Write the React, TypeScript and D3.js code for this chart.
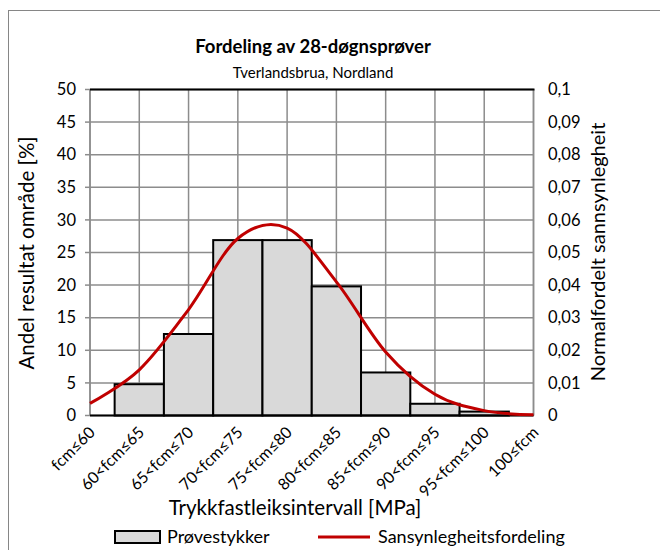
import React from "react";
import * as d3 from "d3";

const categories = [
  "fcm≤60", "60<fcm≤65", "65<fcm≤70", "70<fcm≤75", "75<fcm≤80",
  "80<fcm≤85", "85<fcm≤90", "90<fcm≤95", "95<fcm≤100", "100≤fcm",
];
const barValues = [0, 4.8, 12.5, 26.9, 26.9, 19.8, 6.6, 1.8, 0.6, 0];
const curveValues = [0.0037, 0.014, 0.0325, 0.0543, 0.0575, 0.041, 0.0195, 0.0065, 0.0015, 0.0002];
const leftTicks = [0, 5, 10, 15, 20, 25, 30, 35, 40, 45, 50];
const rightTicks = [0, 0.01, 0.02, 0.03, 0.04, 0.05, 0.06, 0.07, 0.08, 0.09, 0.1];

const FONT = "Lato, 'Open Sans', sans-serif";

export default function App() {
  const W = 660, H = 550;
  const left = 90, right = 533.5, top = 89.5, bottom = 415.5;
  const x = d3.scalePoint<string>().domain(categories).range([left, right]);
  const step = x.step();
  const yL = d3.scaleLinear().domain([0, 50]).range([bottom, top]);
  const yR = d3.scaleLinear().domain([0, 0.1]).range([bottom, top]);
  const fmtR = (v: number) => (v === 0 ? "0" : d3.format(".2~f")(v).replace(".", ","));
  const line = d3
    .line<number>()
    .x((_, i) => x(categories[i]) as number)
    .y((d) => yR(d))
    .curve(d3.curveCardinal.tension(0));
  const grid = "#8c8c8c";

  return (
    <svg width={W} height={H} style={{ position: "absolute", left: 0, top: 0, background: "#fff" }} fontFamily={FONT}>
      <defs>
        <clipPath id="plotclip">
          <rect x={left} y={top - 2} width={right - left} height={bottom - top + 4} />
        </clipPath>
      </defs>
      <line x1={8} x2={W} y1={10.5} y2={10.5} stroke="#868686" strokeWidth={1} />
      <line x1={8.5} x2={8.5} y1={10.5} y2={H} stroke="#868686" strokeWidth={1} />

      <text x={313} y={53} textAnchor="middle" fontSize={18.5} fontWeight="bold" fill="#000">
        Fordeling av 28-døgnsprøver
      </text>
      <text x={313} y={78} textAnchor="middle" fontSize={15} fill="#000">
        Tverlandsbrua, Nordland
      </text>

      {/* gridlines */}
      {leftTicks.map((t) => (
        <line key={"h" + t} x1={left} x2={right} y1={yL(t)} y2={yL(t)} stroke={grid} strokeWidth={1.5} />
      ))}
      {categories.map((c) => (
        <line key={"v" + c} x1={x(c)} x2={x(c)} y1={top} y2={bottom} stroke={grid} strokeWidth={1.5} />
      ))}

      {/* bars */}
      <g clipPath="url(#plotclip)">
        {categories.map((c, i) => (
          <rect
            key={"b" + c}
            x={(x(c) as number) - step / 2}
            y={yL(barValues[i])}
            width={step}
            height={bottom - yL(barValues[i])}
            fill="#d9d9d9"
            stroke="#000"
            strokeWidth={2}
          />
        ))}
      </g>

      {/* axes */}
      <line x1={left} x2={left} y1={top} y2={bottom} stroke={grid} strokeWidth={1.5} />
      <line x1={right} x2={right} y1={top} y2={bottom} stroke={grid} strokeWidth={1.5} />
      <line x1={left} x2={right + 1} y1={top} y2={top} stroke="#000" strokeWidth={2} />
      <line x1={left} x2={right} y1={bottom} y2={bottom} stroke="#000" strokeWidth={2} />
      {leftTicks.map((t) => (
        <g key={"lt" + t}>
          <line x1={left - 5} x2={left} y1={yL(t)} y2={yL(t)} stroke={grid} strokeWidth={1.5} />
          <text x={76} y={yL(t)} dy="0.35em" textAnchor="end" fontSize={16.5} fill="#000">
            {t}
          </text>
        </g>
      ))}
      {rightTicks.map((t) => (
        <text key={"rt" + t} x={548} y={yR(t)} dy="0.35em" textAnchor="start" fontSize={16.5} fill="#000">
          {fmtR(t)}
        </text>
      ))}

      {/* curve */}
      <path d={line(curveValues) || ""} fill="none" stroke="#c00000" strokeWidth={3} />

      {/* category labels */}
      {categories.map((c) => (
        <text
          key={"cl" + c}
          transform={`translate(${(x(c) as number) + 2},${bottom + 14}) rotate(-45)`}
          textAnchor="end"
          dy="0.35em"
          fontSize={16}
          fill="#000"
        >
          {c}
        </text>
      ))}

      {/* axis titles */}
      <text x={295} y={515} textAnchor="middle" fontSize={20.5} fill="#000">
        Trykkfastleiksintervall [MPa]
      </text>
      <text transform="translate(34,253) rotate(-90)" textAnchor="middle" fontSize={20.5} fill="#000">
        Andel resultat område [%]
      </text>
      <text transform="translate(605,252) rotate(-90)" textAnchor="middle" fontSize={20} fill="#000">
        Normalfordelt sannsynlegheit
      </text>

      {/* legend */}
      <rect x={115} y={531} width={45} height={12} fill="#d9d9d9" stroke="#000" strokeWidth={2} />
      <text x={167} y={543} fontSize={18} fill="#000">Prøvestykker</text>
      <line x1={318} x2={370} y1={537} y2={537} stroke="#c00000" strokeWidth={3} />
      <text x={378} y={543} fontSize={18} fill="#000">Sansynlegheitsfordeling</text>
    </svg>
  );
}
